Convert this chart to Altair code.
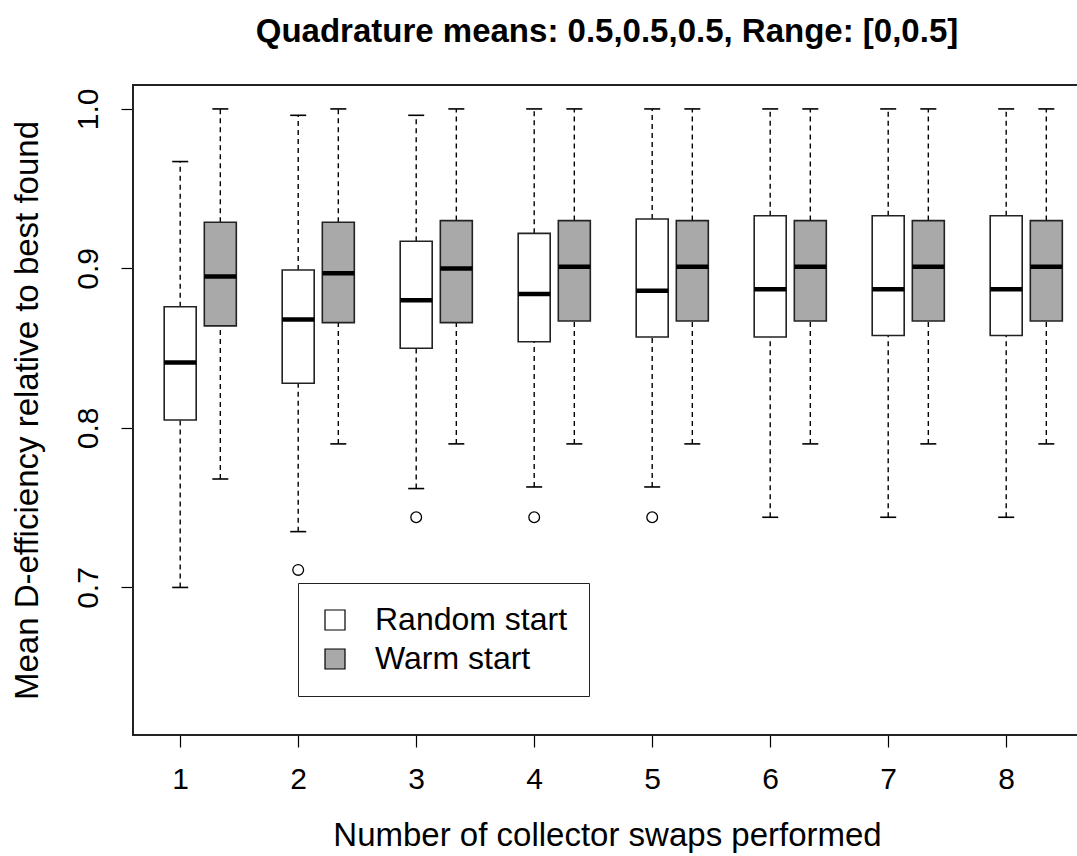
import altair as alt
import pandas as pd

# Number of collector swaps on the x axis
swaps = [1, 2, 3, 4, 5, 6, 7, 8]

# Box-plot summaries (lower whisker, Q1, median, Q3, upper whisker)
random_low = [0.700, 0.735, 0.762, 0.763, 0.763, 0.744, 0.744, 0.744]
random_q1 = [0.805, 0.828, 0.850, 0.854, 0.857, 0.857, 0.858, 0.858]
random_med = [0.841, 0.868, 0.880, 0.884, 0.886, 0.887, 0.887, 0.887]
random_q3 = [0.876, 0.899, 0.917, 0.922, 0.931, 0.933, 0.933, 0.933]
random_high = [0.967, 0.996, 0.996, 1.000, 1.000, 1.000, 1.000, 1.000]

warm_low = [0.768, 0.790, 0.790, 0.790, 0.790, 0.790, 0.790, 0.790]
warm_q1 = [0.864, 0.866, 0.866, 0.867, 0.867, 0.867, 0.867, 0.867]
warm_med = [0.895, 0.897, 0.900, 0.901, 0.901, 0.901, 0.901, 0.901]
warm_q3 = [0.929, 0.929, 0.930, 0.930, 0.930, 0.930, 0.930, 0.930]
warm_high = [1.000, 1.000, 1.000, 1.000, 1.000, 1.000, 1.000, 1.000]

# Outlying points of the random-start runs
outlier_swaps = [2, 3, 4, 5]
outlier_values = [0.711, 0.744, 0.744, 0.744]

starts = ["Random start", "Warm start"]
fills = ["white", "#a9a9a9"]

FONT = "Liberation Sans"
PLOT_W, PLOT_H = 944, 650

rows = []
for i, s in enumerate(swaps):
    rows.append(dict(swaps=s, start=starts[0], low=random_low[i], q1=random_q1[i],
                     med=random_med[i], q3=random_q3[i], high=random_high[i]))
    rows.append(dict(swaps=s, start=starts[1], low=warm_low[i], q1=warm_q1[i],
                     med=warm_med[i], q3=warm_q3[i], high=warm_high[i]))
stats = pd.DataFrame(rows)
outliers = pd.DataFrame(dict(swaps=outlier_swaps, start=starts[0], value=outlier_values))

x_scale = alt.Scale(domain=[0.6, 8.6], nice=False, zero=False, padding=0)
y_scale = alt.Scale(domain=[0.6075, 1.015], nice=False, zero=False, padding=0)

x_axis = alt.Axis(
    values=swaps, format="d", grid=False, domain=False,
    tickColor="black", tickWidth=1.2, tickSize=12,
    labelFont=FONT, labelFontSize=30, labelColor="black",
    labelPadding=41, labelBaseline="alphabetic",
    title="Number of collector swaps performed",
    titleFont=FONT, titleFontSize=33, titleFontWeight="normal", titleColor="black",
    titleX=474, titleY=110, titleAlign="center", titleBaseline="alphabetic",
)
y_axis = alt.Axis(
    values=[0.7, 0.8, 0.9, 1.0], format=".1f", grid=False, domain=False,
    tickColor="black", tickWidth=1.2, tickSize=12,
    labelFont=FONT, labelFontSize=30, labelColor="black",
    labelAngle=270, labelAlign="center", labelBaseline="alphabetic", labelPadding=24,
    title="Mean D-efficiency relative to best found",
    titleFont=FONT, titleFontSize=33, titleFontWeight="normal", titleColor="black",
    titleAngle=270, titleX=-96, titleY=325, titleAlign="center", titleBaseline="alphabetic",
)


def X():
    return alt.X("pos:Q", scale=x_scale, axis=x_axis)


def Y(field):
    return alt.Y(f"{field}:Q", scale=y_scale, axis=y_axis)


base = alt.Chart(stats).transform_calculate(
    pos="datum.swaps + (datum.start == 'Warm start' ? 0.34 : 0)"
)

whisker_style = dict(color="black", strokeWidth=1.4, strokeDash=[5, 4])
lower_whisker = base.mark_rule(**whisker_style).encode(x=X(), y=Y("low"), y2="q1:Q")
upper_whisker = base.mark_rule(**whisker_style).encode(x=X(), y=Y("q3"), y2="high:Q")

cap_style = dict(orient="horizontal", size=16, thickness=1.6, color="black", opacity=1)
lower_cap = base.mark_tick(**cap_style).encode(x=X(), y=Y("low"))
upper_cap = base.mark_tick(**cap_style).encode(x=X(), y=Y("high"))

boxes = base.mark_bar(size=32, stroke="#222222", strokeWidth=1.6, opacity=1).encode(
    x=X(),
    y=Y("q1"),
    y2="q3:Q",
    fill=alt.Fill(
        "start:N",
        scale=alt.Scale(domain=starts, range=fills),
        legend=alt.Legend(
            orient="none", legendX=165, legendY=498, title=None,
            symbolType="square", symbolSize=400, symbolStrokeColor="black",
            symbolStrokeWidth=1.2, symbolOpacity=1,
            labelFont=FONT, labelFontSize=32, labelColor="black", labelLimit=400,
            labelOffset=24, rowPadding=7, padding=21,
            strokeColor="#222222", fillColor="white",
        ),
    ),
)

medians = base.mark_tick(orient="horizontal", size=32, thickness=4.5, color="black",
                         opacity=1).encode(x=X(), y=Y("med"))

outlier_points = alt.Chart(outliers).transform_calculate(
    pos="datum.swaps"
).mark_point(shape="circle", filled=False, size=115, color="black",
             strokeWidth=1.3, opacity=1).encode(x=X(), y=Y("value"))

# Plot frame: its right side runs past the page edge, as in a cropped device
frame = alt.Chart(pd.DataFrame({"frame": [0]})).mark_rect(
    fill=None, stroke="#222222", strokeWidth=2
).encode(
    x=alt.value(0), x2=alt.value(PLOT_W + 4),
    y=alt.value(0), y2=alt.value(PLOT_H),
)

chart = alt.layer(
    frame, lower_whisker, upper_whisker, lower_cap, upper_cap, boxes, medians,
    outlier_points
).properties(
    width=PLOT_W,
    height=PLOT_H,
    background="white",
    autosize=alt.AutoSizeParams(type="none"),
    padding={"left": 133, "top": 85, "right": 0, "bottom": 121},
    title=alt.TitleParams(
        "Quadrature means: 0.5,0.5,0.5, Range: [0,0.5]",
        font=FONT, fontSize=33, fontWeight="bold", color="black",
        anchor="middle", offset=9, baseline="alphabetic", dx=2,
    ),
).configure_view(
    stroke=None
)

chart.save("out.html", embed_options={"renderer": "svg", "actions": False})
